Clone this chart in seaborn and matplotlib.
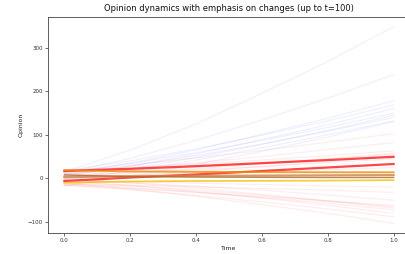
import matplotlib
matplotlib.use("Agg")
import matplotlib.pyplot as plt
import seaborn as sns
import numpy as np

times = [0.0, 0.2, 0.4, 0.6, 0.8, 1.0]

# faint blue trajectories (rising)
blue_lines = [
    [15, 65, 125, 195, 268, 348],
    [12, 46, 87, 134, 184, 238],
    [10, 35, 65, 101, 138, 178],
    [18, 40, 68, 99, 132, 168],
    [5, 28, 56, 89, 123, 160],
    [14, 34, 59, 87, 117, 150],
    [0, 22, 48, 78, 110, 145],
    [8, 28, 52, 79, 108, 140],
    [-3, 17, 42, 70, 100, 132],
    [-17, 5, 32, 62, 95, 130],
]

# faint red trajectories
red_lines = [
    [15, 30, 47, 64, 83, 103],
    [10, 22, 36, 50, 66, 82],
    [18, 25, 33, 42, 52, 63],
    [5, 13, 22, 33, 45, 58],
    [12, 18, 26, 34, 44, 55],
    [-2, 6, 16, 27, 39, 52],
    [8, 13, 20, 27, 36, 45],
    [5, 8, 12, 16, 20, 25],
    [-10, -24, -41, -60, -80, -103],
    [-15, -26, -39, -54, -70, -88],
    [-5, -16, -30, -45, -62, -80],
    [-12, -21, -32, -44, -57, -72],
    [0, -10, -22, -37, -52, -68],
    [-8, -17, -27, -39, -51, -65],
    [-16, -23, -32, -42, -52, -62],
    [-3, -10, -18, -27, -38, -50],
    [-14, -16, -19, -23, -27, -32],
    [-6, -8, -11, -14, -17, -20],
]

# highlighted trajectories
highlight_lines = [
    [17, 22, 28, 35, 42, 49.5],
    [-6, 2, 9, 17, 25, 33],
    [19, 16, 15, 14.5, 14, 14],
    [3, 5, 6, 6.5, 7, 7.5],
    [8, 4, 3, 2.5, 2, 2],
    [-10, -7, -6, -5.5, -5, -4],
]
highlight_colors = ["#ff1a1a", "#ff1a1a", "#f08c00", "#c8844a", "#b5651d", "#f0c000"]
highlight_widths = [1.6, 1.6, 1.4, 1.6, 1.0, 1.2]

title = "Opinion dynamics with emphasis on changes (up to t=100)"

fig = plt.figure(figsize=(4.06, 2.54), dpi=100)
ax = fig.add_axes([0.118, 0.083, 0.892, 0.85])

for vals in blue_lines:
    sns.lineplot(x=times, y=vals, color="#3030ff", alpha=0.07, linewidth=0.9, ax=ax)
for vals in red_lines:
    sns.lineplot(x=times, y=vals, color="#ff2020", alpha=0.08, linewidth=0.9, ax=ax)
for vals, c, w in zip(highlight_lines, highlight_colors, highlight_widths):
    sns.lineplot(x=times, y=vals, color=c, alpha=0.8, linewidth=w, ax=ax)

ax.set_xlim(-0.05, 1.05)
ax.set_ylim(-125, 370)
ax.set_xticks([0.0, 0.2, 0.4, 0.6, 0.8, 1.0])
ax.set_yticks([-100, 0, 100, 200, 300])
ax.tick_params(labelsize=4, length=2, width=0.5, pad=1.5, colors="#333333")
for s in ax.spines.values():
    s.set_linewidth(0.6)
    s.set_color("#444444")
ax.set_xlabel("Time", fontsize=4.5, labelpad=2, color="#222222")
ax.set_ylabel("Opinion", fontsize=4.5, labelpad=3, color="#222222")
ax.set_title(title, fontsize=6, pad=4, color="#111111")

fig.savefig("out.png", dpi=100)
